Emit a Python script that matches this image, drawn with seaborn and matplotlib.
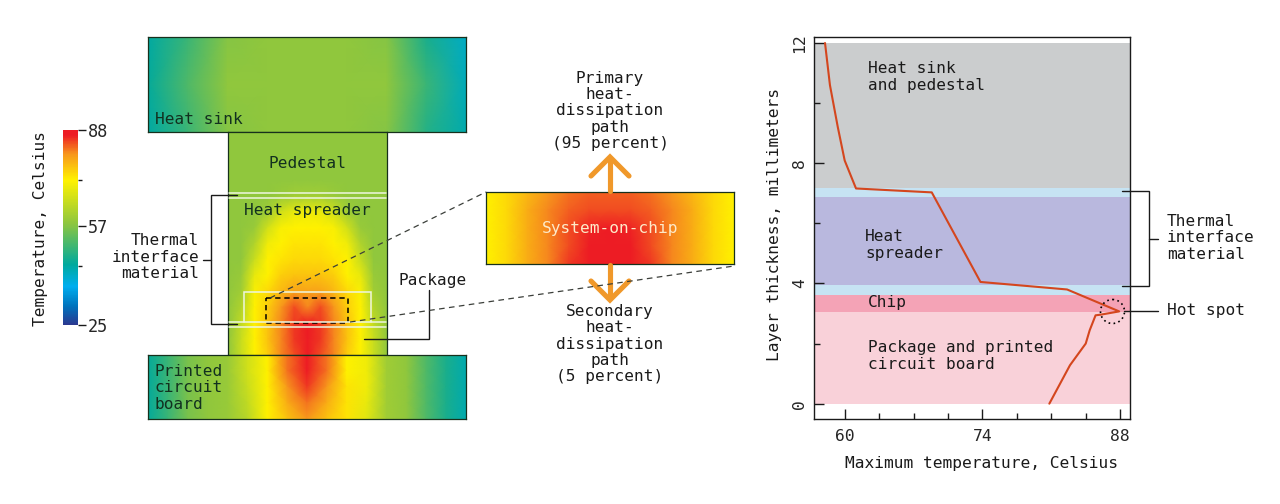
import matplotlib
matplotlib.use("Agg")
import matplotlib.pyplot as plt
import numpy as np
import pandas as pd
import seaborn as sns
from matplotlib.colors import LinearSegmentedColormap
from matplotlib.patches import Circle, Rectangle

W, H = 1280, 504
INK = "#1a1a1a"

# temperature fields (Celsius)
heat_sink_temps = [
    [44, 50, 57, 58, 58, 58, 57, 47, 41],
    [45, 52, 58, 58, 58, 58, 58, 50, 42],
    [44, 50, 57, 58, 58, 58, 57, 48, 43],
]
body_temps = [
    [58, 58, 58, 58, 58, 58, 58, 58, 58, 58, 58, 58, 58],
    [58, 58, 58, 58, 58, 58, 58, 58, 58, 58, 58, 58, 58],
    [58, 58, 58, 58, 58, 58, 58, 58, 58, 58, 58, 58, 58],
    [58, 58, 58, 58, 58, 58, 58, 58, 58, 58, 58, 58, 58],
    [58, 58, 58, 58, 59, 60, 60, 60, 59, 58, 58, 58, 58],
    [58, 58, 58, 60, 66, 69, 70, 69, 66, 60, 58, 58, 58],
    [58, 58, 59, 66, 71, 72, 72, 72, 71, 66, 59, 58, 58],
    [58, 58, 62, 70, 72, 73, 73, 73, 72, 70, 62, 58, 58],
    [58, 58, 65, 72, 73, 74, 74, 74, 73, 72, 65, 58, 58],
    [58, 59, 69, 72, 75, 76, 76, 76, 75, 72, 69, 59, 58],
    [58, 60, 71, 74, 77, 79, 79, 79, 77, 74, 71, 60, 58],
    [58, 62, 72, 75, 80, 84, 81, 84, 80, 75, 72, 62, 58],
    [58, 64, 72, 76, 81, 85, 88, 85, 81, 76, 72, 64, 58],
    [58, 65, 72, 76, 81, 85, 88, 85, 81, 76, 72, 65, 58],
    [58, 65, 72, 75, 81, 84, 88, 84, 81, 75, 72, 65, 58],
]
board_temps = [
    [45, 50, 56, 58, 59, 66, 72, 82, 88, 82, 72, 70, 60, 58, 52, 47, 43],
    [45, 50, 56, 58, 59, 66, 72, 82, 88, 82, 72, 70, 60, 58, 52, 47, 43],
    [45, 50, 56, 58, 59, 65, 72, 80, 85, 80, 73, 70, 60, 58, 52, 47, 43],
    [45, 50, 56, 58, 59, 64, 72, 78, 82, 78, 73, 69, 60, 58, 52, 47, 43],
    [45, 50, 56, 58, 59, 63, 72, 76, 80, 76, 73, 68, 60, 58, 52, 47, 43],
]
chip_temps = [
    [72, 74, 77, 80, 82, 83, 83, 83, 82, 80, 77, 74, 72],
    [72, 74, 78, 81, 83, 84, 84, 84, 83, 81, 78, 74, 72],
    [72, 74, 78, 81, 84, 86, 88, 86, 84, 81, 78, 74, 72],
    [72, 74, 78, 81, 84, 88, 88, 88, 84, 81, 78, 74, 72],
    [72, 74, 78, 81, 85, 88, 88, 88, 85, 81, 78, 74, 72],
]

# layer profile on the right
max_temp = [80.8, 81.9, 82.9, 84.5, 84.9, 85.5, 86.0, 87.9, 82.6, 73.8, 68.85, 61.15, 60.0, 59.3, 58.5, 58.0]
thickness = [0, 0.67, 1.28, 2.0, 2.44, 2.94, 2.96, 3.07, 3.8, 4.05, 7.03, 7.16, 8.09, 9.2, 10.6, 12.0]
band_edges = [0, 3.05, 3.62, 3.94, 6.87, 7.17, 12]
band_colors = ["#f9d1d9", "#f4a3b6", "#c6e3f3", "#b9b8de", "#c6e3f3", "#cbcdce"]

x_major = [60, 74, 88]
x_minor = [63.5, 67, 70.5, 77.5, 81, 84.5]
y_major = [0, 4, 8, 12]
y_minor = [2, 6, 10]

cbar_major = [25, 57, 88]
cbar_minor = [44, 72]

cmap = LinearSegmentedColormap.from_list("thermal", [
    (0.0, "#2b3990"), (0.094, "#0072bc"), (0.197, "#00aeef"), (0.31, "#00a99d"),
    (0.52, "#8dc63f"), (0.744, "#fff200"), (0.88, "#f7941d"), (0.975, "#ed1c24"), (1.0, "#ed1c24"),
])

sns.set_theme(style="white")
plt.rcParams["font.family"] = ["DejaVu Sans Mono"]
plt.rcParams["font.size"] = 11.6
plt.rcParams["text.color"] = INK


def px_axes(fig, x0, y0, x1, y1, **kw):
    """axes from pixel box, y measured from the top"""
    return fig.add_axes([x0 / W, 1 - y1 / H, (x1 - x0) / W, (y1 - y0) / H], **kw)


def draw_field(fig, temps, box, cbar_ax=None):
    ax = px_axes(fig, *box)
    sns.heatmap(pd.DataFrame(temps), ax=ax, cmap=cmap, vmin=25, vmax=88, shading="gouraud",
                cbar=cbar_ax is not None, cbar_ax=cbar_ax, xticklabels=False, yticklabels=False)
    nrows, ncols = np.shape(temps)
    ax.set_xlim(0, ncols - 1)
    ax.set_ylim(nrows - 1, 0)
    ax.set_xlabel("")
    ax.set_ylabel("")
    for spine in ax.spines.values():
        spine.set_visible(True)
        spine.set_color("#17301c")
        spine.set_linewidth(0.9)
    return ax


fig = plt.figure(figsize=(W / 100, H / 100), dpi=100)

cax = px_axes(fig, 63, 130, 78, 325)
draw_field(fig, heat_sink_temps, (148, 37, 466, 132), cbar_ax=cax)
draw_field(fig, body_temps, (228, 132, 387, 355))
draw_field(fig, board_temps, (148, 355, 466, 419))
draw_field(fig, chip_temps, (486, 192, 734, 264))

cbar = fig.axes[1].collections[0].colorbar
cbar.set_ticks(cbar_major, labels=[str(t) for t in cbar_major])
cbar.ax.set_yticks(cbar_minor, minor=True)
cbar.ax.tick_params(which="major", length=6, width=1, color=INK, pad=1, labelsize=12.2, left=False, right=True)
cbar.ax.tick_params(which="minor", length=3, width=1, color=INK, left=False, right=True)
cbar.outline.set_visible(False)

# right panel
ax = px_axes(fig, 814, 37, 1130, 419)
for lo, hi, col in zip(band_edges[:-1], band_edges[1:], band_colors):
    ax.axhspan(lo, hi, color=col, lw=0, zorder=0)
sns.lineplot(x=max_temp, y=thickness, sort=False, estimator=None, color="#d4461e", lw=1.5, ax=ax, zorder=3)
ax.set_xlim(56.88, 89.0)
ax.set_ylim(-0.51, 12.2)
ax.set_xticks(x_major)
ax.set_xticks(x_minor, minor=True)
ax.set_yticks(y_major)
ax.set_yticks(y_minor, minor=True)
ax.tick_params(axis="both", which="major", direction="in", length=7, width=1, color=INK, labelsize=11.8, bottom=True, left=True)
ax.tick_params(axis="both", which="minor", direction="in", length=4, width=1, color=INK, bottom=True, left=True)
ax.tick_params(axis="x", pad=7)
ax.tick_params(axis="y", pad=5)
plt.setp(ax.get_yticklabels(), rotation=90, va="center")
ax.set_xlabel("Maximum temperature, Celsius", fontsize=11.7, labelpad=8.5, color=INK, x=0.53)
ax.set_ylabel("Layer thickness, millimeters", fontsize=11.7, labelpad=7, color=INK, y=0.51)
for spine in ax.spines.values():
    spine.set_visible(True)
    spine.set_color(INK)
    spine.set_linewidth(1)

# overlay in pixel coordinates for the callouts
ov = fig.add_axes([0, 0, 1, 1], zorder=10)
ov.set_xlim(0, W)
ov.set_ylim(H, 0)
ov.axis("off")
ov.patch.set_alpha(0)


def label(x, y, s, ha="left", color=INK, **kw):
    ov.text(x, y, s, ha=ha, va="center", color=color, linespacing=1.09, multialignment=ha, **kw)


def leader(xs, ys, color=INK, lw=1.0, **kw):
    ov.plot(xs, ys, color=color, lw=lw, solid_joinstyle="miter", **kw)


ov.text(41, 228, "Temperature, Celsius", rotation=90, ha="center", va="center", color=INK)
label(155, 120, "Heat sink", color="#12301f")
label(307, 163, "Pedestal", ha="center", color="#12301f")
label(307, 210, "Heat spreader", ha="center", color="#12301f")
label(155, 388, "Printed\ncircuit\nboard", color="#12301f")
label(199, 257, "Thermal\ninterface\nmaterial", ha="right")
label(398, 281, "Package")

# thin white interface lines and the package outline
for y in (193, 198, 322, 327):
    leader([229, 386], [y, y], color="#eef6e0", lw=1.1)
leader([244, 244, 371, 371], [322, 292, 292, 322], color="#eef6e0", lw=1.1)
ov.add_patch(Rectangle((266, 298), 82, 24.5, fill=False, ec="black", lw=1.1, ls=(0, (3.5, 2.5))))

leader([237, 211, 211, 237], [195, 195, 324, 324])
leader([203, 211], [260, 260])
leader([364, 429, 429], [339, 339, 290])

leader([270, 486], [298, 192], color="#3b3f3a", lw=0.9, ls=(0, (4.5, 3.5)), zorder=5)
leader([350, 734], [322, 266], color="#3b3f3a", lw=0.9, ls=(0, (4.5, 3.5)), zorder=5)

# heat paths
orange = "#f0982a"
leader([610, 610], [191, 158], color=orange, lw=3.7, zorder=2)
leader([591, 610, 629], [176, 157, 176], color=orange, lw=3.7, zorder=2)
leader([610, 610], [265, 298], color=orange, lw=3.7, zorder=2)
leader([591, 610, 629], [281, 300, 281], color=orange, lw=3.7, zorder=2)
label(610, 111, "Primary\nheat-\ndissipation\npath\n(95 percent)", ha="center")
label(610, 344, "Secondary\nheat-\ndissipation\npath\n(5 percent)", ha="center")
label(610, 228, "System-on-chip", ha="center", color="#fdeac8")

# right panel callouts
label(868, 77, "Heat sink\nand pedestal")
label(865, 245, "Heat\nspreader")
label(868, 303, "Chip")
label(868, 356, "Package and printed\ncircuit board")
leader([1122, 1149, 1149, 1122], [191, 191, 286, 286])
leader([1149, 1158], [239, 239])
label(1167, 238, "Thermal\ninterface\nmaterial")
ov.add_patch(Circle((1112.5, 311.5), 12, fill=False, ec="black", lw=1.2, ls=(0, (1, 2))))
leader([1124, 1158], [311, 311])
label(1167, 310, "Hot spot")

fig.savefig("out.png", dpi=100)
